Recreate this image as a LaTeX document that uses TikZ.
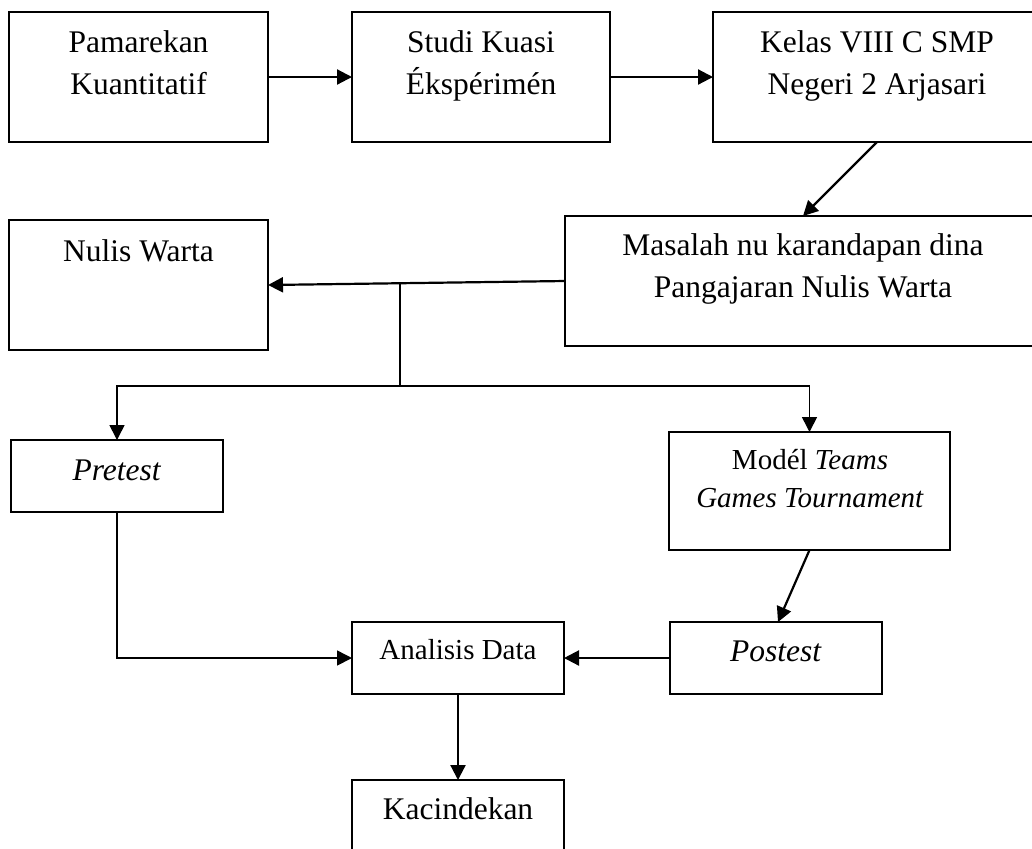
\documentclass[tikz,border=0pt]{standalone}
\usepackage{fontspec}
\setmainfont{Liberation Serif}
\usetikzlibrary{arrows.meta,fit,calc}
\begin{document}
\begin{tikzpicture}[x=0.5pt,y=-0.5pt,
  box/.style={draw, line width=1pt, inner sep=0pt, outer sep=0pt},
  lbl/.style={inner sep=0pt, anchor=base, align=center,
    font=\fontsize{15.75pt}{21pt}\selectfont},
  lbls/.style={lbl, font=\fontsize{14.5pt}{19pt}\selectfont},
  conn/.style={line width=1.1pt, -{Triangle[length=7.5pt,width=7.5pt]}},
  thin/.style={line width=0.8pt}]
\useasboundingbox (0,0) rectangle (1032,848);
% boxes
\node[box, fit={(9,12) (268,142)}] (b1) {};
\node[box, fit={(352,12) (610,142)}] (b2) {};
\node[box, fit={(713,12) (1041,142)}] (b3) {};
\node[box, fit={(565,216) (1041,346)}] (b4) {};
\node[box, fit={(9,220) (268,350)}] (b5) {};
\node[box, fit={(11,440) (223,512)}] (b6) {};
\node[box, fit={(669,432) (950,550)}] (b7) {};
\node[box, fit={(352,622) (564,694)}] (b8) {};
\node[box, fit={(670,622) (882,694)}] (b9) {};
\node[box, fit={(352,780) (564,870)}] (b10) {};
% texts (anchor base = last line)
\node[lbl] (t1) at (138.5,94) {Pamarekan\\Kuantitatif};
\node[lbl] (t2) at (481,94) {Studi Kuasi\\Ékspérimén};
\node[lbl] (t3) at (877,94) {Kelas VIII C SMP\\Negeri 2 Arjasari};
\node[lbl] (t4) at (803,297) {Masalah nu karandapan dina\\Pangajaran Nulis Warta};
\node[lbl] (t5) at (138.5,261) {Nulis Warta};
\node[lbl] (t6) at (117,480) {\textit{Pretest}};
\node[lbls] (t7) at (810,507) {Modél \textit{Teams}\\\textit{Games Tournament}};
\node[lbls] (t8) at (458,659) {Analisis Data};
\node[lbl] (t9) at (776,661) {\textit{Postest}};
\node[lbl] (t10) at (458,819) {Kacindekan};
% connectors
\draw[conn] (b1.east) -- (b2.west);
\draw[conn] (b2.east) -- (b3.west);
\draw[conn] (b3.south) -- (b4.north);
\draw[conn] (b4.west) -- (b5.east);
\coordinate (j1) at ($(b4.west)!0.5556!(b5.east)$);
\coordinate (j2) at (400,386);
\draw[thin] (j1) -- (j2);
\draw[conn, line width=0.8pt] (j2) -| (b6.north);
\draw[conn, line width=0.8pt] (j2) -| (b7.north);
\draw[conn, line width=0.8pt] (b6.south) |- (b8.west);
\draw[conn] (b9.west) -- (b8.east);
\draw[conn] (b7.south) -- ([xshift=1pt]b9.north);
\draw[conn] (b8.south) -- (b10.north);
\end{tikzpicture}
\end{document}
